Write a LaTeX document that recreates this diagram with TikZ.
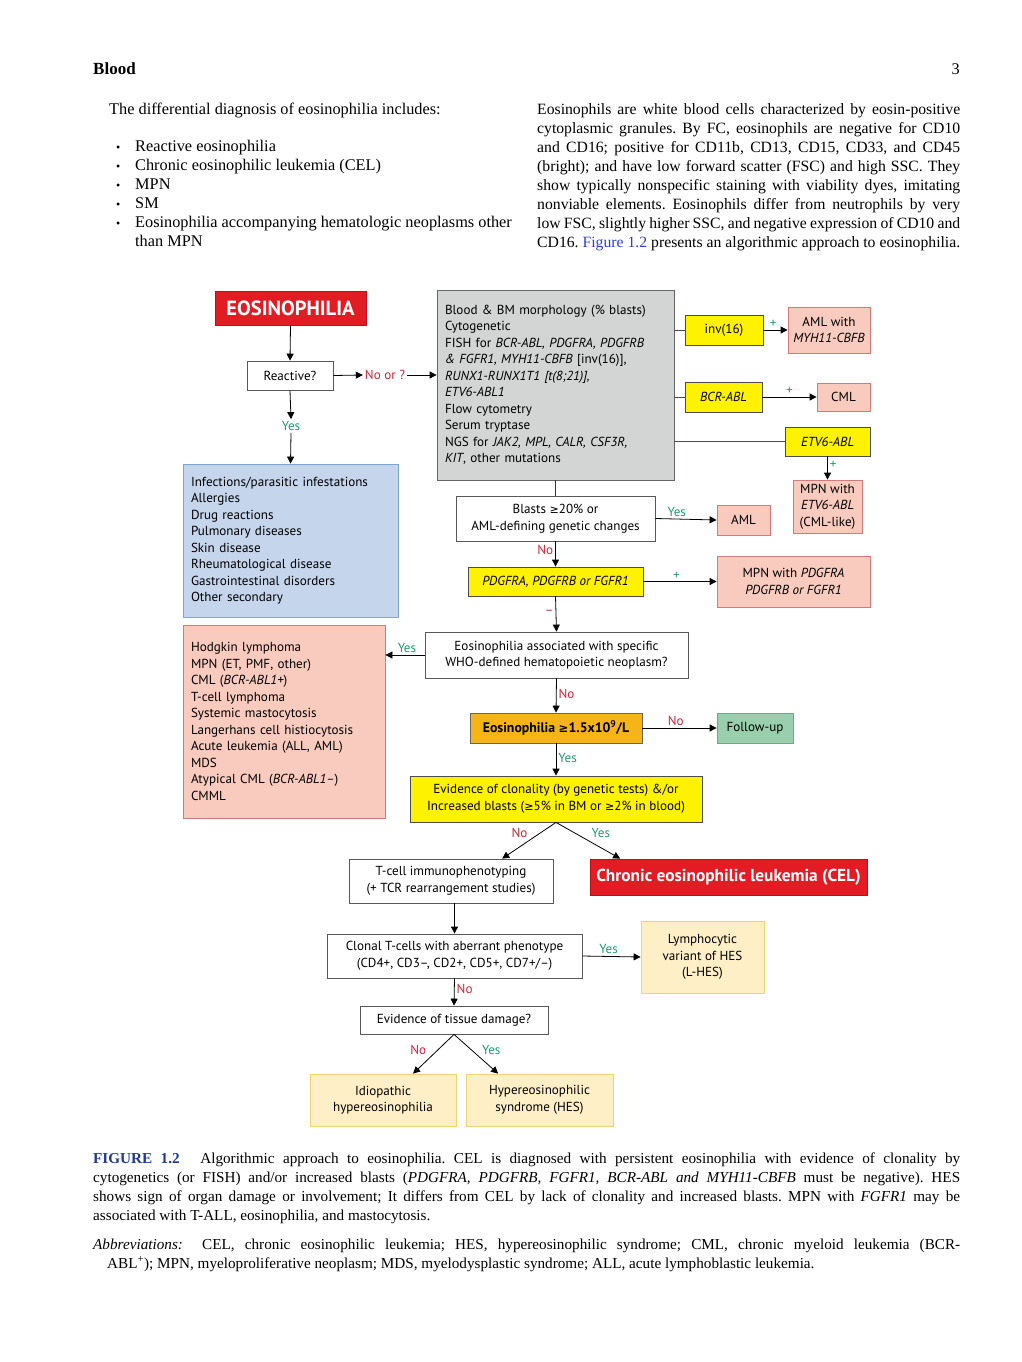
\documentclass[tikz,border=0pt]{standalone}
\usepackage{fontspec}
\setmainfont{Liberation Serif}
\newfontfamily\dg{PT Sans}
\newfontfamily\symf{DejaVu Sans}
\newcommand{\gesym}{{\symf\scalebox{0.85}{≥}}}
\usetikzlibrary{arrows.meta,calc}
\definecolor{eosred}{HTML}{E31B23}
\definecolor{eosredb}{HTML}{B5121B}
\definecolor{yel}{HTML}{FFF200}
\definecolor{grayf}{HTML}{D3D4D4}
\definecolor{blf}{HTML}{C5D5EC}
\definecolor{blb}{HTML}{7AA7D6}
\definecolor{pkf}{HTML}{F9CBBE}
\definecolor{pkb}{HTML}{D9787A}
\definecolor{orf}{HTML}{F7B416}
\definecolor{grf}{HTML}{9ACFAD}
\definecolor{grb}{HTML}{6BAA86}
\definecolor{lyf}{HTML}{FEEFC6}
\definecolor{lyb}{HTML}{F3D272}
\definecolor{yesc}{HTML}{1E9B6F}
\definecolor{noc}{HTML}{D0253A}
\definecolor{linkc}{HTML}{2E3FD0}
\definecolor{figc}{HTML}{1F3A93}
\frenchspacing
\tikzset{
  dfont/.style={font=\dg\fontsize{13.1}{16.5}\selectfont},
  bx/.style={dfont, draw=#1, line width=0.8pt, inner sep=0pt, align=center},
  wbox/.style={bx=black!65, fill=white},
  ybox/.style={bx=black!70, fill=yel},
  pbox/.style={bx=pkb, fill=pkf},
  lybox/.style={bx=lyb, fill=lyf},
  lab/.style={font=\dg\fontsize{13.1}{15}\selectfont, inner sep=2pt},
  ylab/.style={lab, text=yesc},
  nlab/.style={lab, text=noc},
  arr/.style={-{Triangle[length=7pt,width=7pt]}, line width=0.8pt, draw=black},
  ln/.style={line width=0.8pt, draw=black!70},
  body/.style={font=\fontsize{16.3}{19}\selectfont, inner sep=0pt, anchor=base west},
  rbody/.style={font=\fontsize{15.7}{19}\selectfont, inner sep=0pt, anchor=base west},
  captxt/.style={font=\fontsize{15.2}{19}\selectfont, inner sep=0pt, anchor=base west},
}
\begin{document}
\begin{tikzpicture}[x=1pt,y=-1pt]
\useasboundingbox[fill=white] (0,0) rectangle (1022,1362);

% ---------- header and body text ----------
\node[body, font=\fontsize{17}{19}\selectfont\bfseries] (hd) at (93,74.5) {Blood};
\node[body, anchor=base east] (pg) at (960,74.5) {3};

\node[body] (l0) at (109,114) {The differential diagnosis of eosinophilia includes:};
\foreach \yy/\tt [count=\i] in {147/Reactive eosinophilia,166/Chronic eosinophilic leukemia (CEL),185/MPN,204/SM,223/Eosinophilia accompanying hematologic neoplasms other}{
  \node[body, font=\fontsize{12}{19}\selectfont] (lb\i) at (116,\yy+4.5) {\textbullet};
  \node[body] (lt\i) at (135,\yy+4.5) {\tt};
}
\node[body] (lt6) at (135,246.5) {than MPN};

\node[rbody] (r1) at (537,114) {\makebox[423pt][s]{Eosinophils are white blood cells characterized by eosin-positive}};
\node[rbody] (r2) at (537,133) {\makebox[423pt][s]{cytoplasmic granules. By FC, eosinophils are negative for CD10}};
\node[rbody] (r3) at (537,152) {\makebox[423pt][s]{and CD16; positive for CD11b, CD13, CD15, CD33, and CD45}};
\node[rbody] (r4) at (537,171) {\makebox[423pt][s]{(bright); and have low forward scatter (FSC) and high SSC. They}};
\node[rbody] (r5) at (537,190) {\makebox[423pt][s]{show typically nonspecific staining with viability dyes, imitating}};
\node[rbody] (r6) at (537,209) {\makebox[423pt][s]{nonviable elements. Eosinophils differ from neutrophils by very}};
\node[rbody] (r7) at (537,228) {\makebox[423pt][s]{low FSC, slightly higher SSC, and negative expression of CD10 and}};
\node[rbody] (r8) at (537,247) {\makebox[423pt][s]{CD16. \textcolor{linkc}{Figure 1.2} presents an algorithmic approach to eosinophilia.}};

% ---------- diagram ----------
\node[bx=eosredb, fill=eosred, minimum width=151pt, minimum height=34pt,
      font=\dg\bfseries\fontsize{20.5}{22}\selectfont, text=white] (eos) at (290.5,308) {EOSINOPHILIA};
\node[wbox, minimum width=86pt, minimum height=29pt] (react) at (290,375.5) {Reactive?};
\node[nlab] (noq) at (385,375) {No or ?};
\node[ylab] (yes1) at (291,426) {Yes};

\node[bx=black!60, fill=grayf, minimum width=237pt, minimum height=190pt,
      text width=221pt, align=left] (gray) at (555.5,385) {%
Blood \& BM morphology (\% blasts)\\
Cytogenetic\\
FISH for \textit{BCR-ABL, PDGFRA, PDGFRB}\\
\textit{\& FGFR1, MYH11-CBFB} [inv(16)],\\
\textit{RUNX1-RUNX1T1 [t(8;21)],}\\
\textit{ETV6-ABL1}\\
Flow cytometry\\
Serum tryptase\\
NGS for \textit{JAK2, MPL, CALR, CSF3R,}\\
\textit{KIT}, other mutations};

\node[bx=blb, fill=blf, minimum width=215pt, minimum height=153pt,
      text width=199pt, align=left] (blue) at (290.5,540.5) {%
Infections/parasitic infestations\\
Allergies\\
Drug reactions\\
Pulmonary diseases\\
Skin disease\\
Rheumatological disease\\
Gastrointestinal disorders\\
Other secondary};

\node[ybox, minimum width=78pt, minimum height=30pt] (inv) at (724,330) {inv(16)};
\node[pbox, minimum width=82pt, minimum height=46pt] (aml1) at (829,330) {AML with\\\textit{MYH11-CBFB}};
\node[ybox, minimum width=77pt, minimum height=30pt] (bcr) at (723.5,397) {\textit{BCR-ABL}};
\node[pbox, minimum width=53pt, minimum height=28pt] (cml) at (843.5,397) {CML};
\node[ybox, minimum width=85pt, minimum height=29pt] (etv) at (827.5,441.5) {\textit{ETV6-ABL}};
\node[pbox, minimum width=69pt, minimum height=53pt] (mpnetv) at (827.5,506.5) {MPN with\\\textit{ETV6-ABL}\\(CML-like)};

\node[wbox, minimum width=199pt, minimum height=45pt] (blasts) at (555.5,518.5) {Blasts \gesym20\% or\\AML-defining genetic changes};
\node[pbox, minimum width=53pt, minimum height=30pt] (aml) at (743.5,520) {AML};
\node[ybox, minimum width=175pt, minimum height=29pt] (pdg) at (555.5,581.5) {\textit{PDGFRA, PDGFRB or FGFR1}};
\node[pbox, minimum width=153pt, minimum height=51pt] (mpnpdg) at (793.5,581.5) {MPN with \textit{PDGFRA}\\\textit{PDGFRB or FGFR1}};
\node[wbox, minimum width=263pt, minimum height=46pt] (assoc) at (556.5,655) {Eosinophilia associated with specific\\WHO-defined hematopoietic neoplasm?};

\node[bx=pkb, fill=pkf, minimum width=202pt, minimum height=193pt,
      text width=186pt, align=left] (list) at (284,721.5) {%
Hodgkin lymphoma\\
MPN (ET, PMF, other)\\
CML (\textit{BCR-ABL1+})\\
T-cell lymphoma\\
Systemic mastocytosis\\
Langerhans cell histiocytosis\\
Acute leukemia (ALL, AML)\\
MDS\\
Atypical CML (\textit{BCR-ABL1–})\\
CMML};

\node[bx=black!60, fill=orf, minimum width=172pt, minimum height=30pt, font=\dg\bfseries\fontsize{13.8}{15}\selectfont] (eos15) at (556,728) {Eosinophilia {\bfseries\gesym}1.5x10\textsuperscript{9}/L};
\node[bx=grb, fill=grf, minimum width=76pt, minimum height=30pt] (follow) at (755,728) {Follow-up};
\node[ybox, minimum width=292pt, minimum height=46pt] (evid) at (556,799) {Evidence of clonality (by genetic tests) \&/or\\Increased blasts (\gesym5\% in BM or \gesym2\% in blood)};
\node[wbox, minimum width=204pt, minimum height=44pt] (tcell) at (451,881) {T-cell immunophenotyping\\(+ TCR rearrangement studies)};
\node[bx=eosredb, fill=eosred, minimum width=277pt, minimum height=36pt,
      font=\dg\bfseries\fontsize{17.3}{20}\selectfont, text=white] (cel) at (728.5,877) {Chronic eosinophilic leukemia (CEL)};
\node[wbox, minimum width=255pt, minimum height=44pt] (clonal) at (454.5,956) {Clonal T-cells with aberrant phenotype\\(CD4+, CD3–, CD2+, CD5+, CD7+/–)};
\node[lybox, minimum width=123pt, minimum height=72pt] (lymph) at (702.5,957) {Lymphocytic\\variant of HES\\(L-HES)};
\node[wbox, minimum width=188pt, minimum height=28pt] (tissue) at (454,1020) {Evidence of tissue damage?};
\node[lybox, minimum width=146pt, minimum height=52pt] (idio) at (383,1100) {Idiopathic\\hypereosinophilia};
\node[lybox, minimum width=147pt, minimum height=52pt] (hes) at (539.5,1100) {Hypereosinophilic\\syndrome (HES)};

% ---------- connectors ----------
\draw[arr] (eos.south) -- (react.north);
\draw[arr] (react.east) -- (noq.west);
\draw[arr] (noq.east) -- (noq.east -| gray.west);
\draw[arr] (react.south) -- (yes1.north);
\draw[arr] (yes1.south) -- (blue.north);

\draw[ln] (inv.west -| gray.east) -- (inv.west);
\draw[ln] (bcr.west -| gray.east) -- (bcr.west);
\draw[ln] (etv.west -| gray.east) -- (etv.west);
\draw[arr] (inv.east) -- node[above, ylab, pos=0.4] {+} (aml1.west);
\draw[arr] (bcr.east) -- node[above, ylab, pos=0.5] {+} (cml.west);
\draw[arr] (etv.south) -- node[right, ylab, pos=0.35] {+} (mpnetv.north);

\draw[ln, draw=black!80] (gray.south) -- (blasts.north);
\draw[arr] (blasts.east) -- node[above, ylab, pos=0.35] {Yes} (aml.west);
\draw[arr] (blasts.south) -- node[left, nlab, pos=0.35] {No} (pdg.north);
\draw[arr] (pdg.east) -- node[above, ylab, pos=0.45] {+} (mpnpdg.west);
\draw[arr] (pdg.south) -- node[left, nlab, pos=0.45] {–} (assoc.north);
\draw[arr] (assoc.west) -- node[above, ylab, pos=0.45] {Yes} (assoc.west -| list.east);
\draw[arr] (assoc.south) -- node[right, nlab, pos=0.45] {No} (eos15.north);
\draw[arr] (eos15.east) -- node[above, nlab, pos=0.45] {No} (follow.west);
\draw[arr] (eos15.south) -- node[right, ylab, pos=0.45] {Yes} (evid.north);
\draw[arr] (evid.south) -- node[pos=0.3, left=10pt, nlab] {No} ($(tcell.north)!0.5!(tcell.north east)$);
\draw[arr] (evid.south) -- node[pos=0.3, right=14pt, ylab] {Yes} ($(cel.north west)!0.22!(cel.north)$);
\draw[arr] (tcell.south -| clonal.north) -- (clonal.north);
\draw[arr] (clonal.east) -- node[above, ylab, pos=0.45] {Yes} (lymph.west);
\draw[arr] (clonal.south) -- node[right, nlab, pos=0.4] {No} (tissue.north);
\draw[arr] (tissue.south) -- node[pos=0.4, left=9pt, nlab] {No} ($(idio.north)!0.41!(idio.north east)$);
\draw[arr] (tissue.south) -- node[pos=0.4, right=8pt, ylab] {Yes} ($(hes.north west)!0.44!(hes.north)$);

% ---------- caption ----------
\node[captxt] (c1) at (93,1163) {\makebox[867pt][s]{\textcolor{figc}{\textbf{FIGURE 1.2}}\hspace{0.8em} Algorithmic approach to eosinophilia. CEL is diagnosed with persistent eosinophilia with evidence of clonality by}};
\node[captxt] (c2) at (93,1182) {\makebox[867pt][s]{cytogenetics (or FISH) and/or increased blasts (\textit{PDGFRA, PDGFRB, FGFR1, BCR-ABL and MYH11-CBFB} must be negative). HES}};
\node[captxt] (c3) at (93,1201) {\makebox[867pt][s]{shows sign of organ damage or involvement; It differs from CEL by lack of clonality and increased blasts. MPN with \textit{FGFR1} may be}};
\node[captxt] (c4) at (93,1220) {associated with T-ALL, eosinophilia, and mastocytosis.};
\node[captxt] (a1) at (93,1249) {\makebox[867pt][s]{\textit{Abbreviations:}\hspace{0.6em} CEL, chronic eosinophilic leukemia; HES, hypereosinophilic syndrome; CML, chronic myeloid leukemia (BCR-}};
\node[captxt] (a2) at (107,1268) {ABL\textsuperscript{+}); MPN, myeloproliferative neoplasm; MDS, myelodysplastic syndrome; ALL, acute lymphoblastic leukemia.};
\end{tikzpicture}
\end{document}
